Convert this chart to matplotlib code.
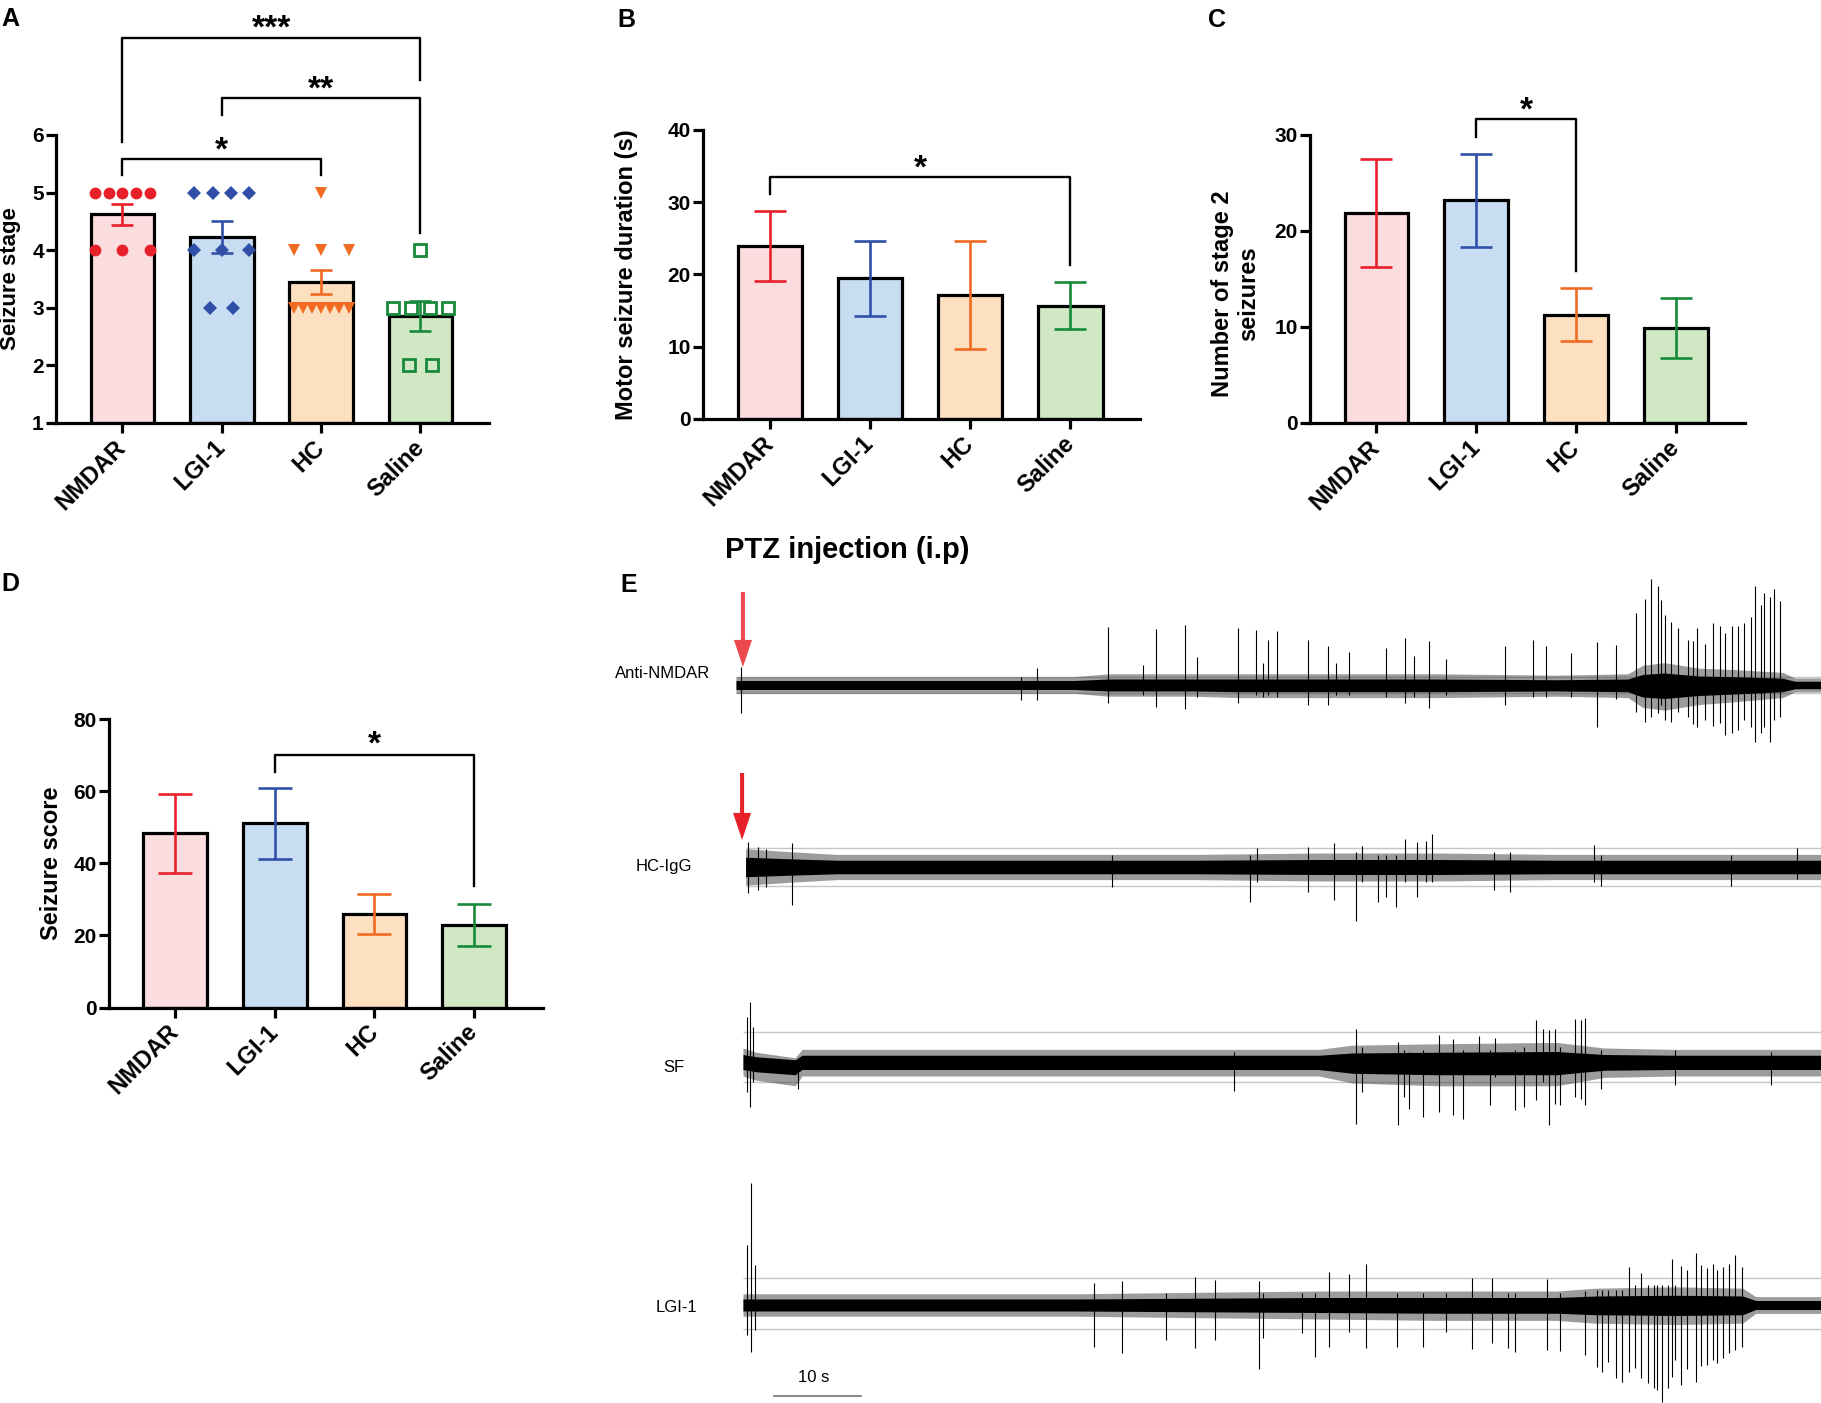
import numpy as np
import matplotlib
matplotlib.use('Agg')
import matplotlib.pyplot as plt

plt.rcParams['font.family'] = ['Liberation Sans', 'DejaVu Sans']

groups = ['NMDAR', 'LGI-1', 'HC', 'Saline']
face_colors = ['#fbdde0', '#c9ddf2', '#fde0c0', '#d0e8c4']
line_colors = ['#e8202a', '#3050a8', '#f26b22', '#18893a']

# A - seizure stage per animal
stage_nmdar = [5, 5, 5, 5, 5, 4, 4, 4]
stage_lgi = [5, 5, 5, 5, 4, 4, 4, 3, 3]
stage_hc = [5, 4, 4, 4, 3, 3, 3, 3, 3, 3, 3]
stage_saline = [4, 3, 3, 3, 3, 2, 2]

# B - motor seizure duration (s), mean and SEM
motor_mean = [23.9, 19.5, 17.2, 15.7]
motor_sem = [4.85, 5.2, 7.5, 3.2]

# C - number of stage 2 seizures
stage2_mean = [21.9, 23.2, 11.3, 9.9]
stage2_sem = [5.6, 4.85, 2.75, 3.15]

# D - seizure score
score_mean = [48.4, 51.1, 26.0, 22.9]
score_sem = [11.0, 9.85, 5.5, 5.95]

# significance brackets: (left group, right group, bar y, left leg end, right leg end, label, label y)
sig_a = [(0, 3, 7.68, 5.88, 6.95, '***', 8.03),
         (1, 3, 6.64, 6.35, 4.30, '**', 6.97),
         (0, 2, 5.58, 5.31, 5.31, '*', 5.91)]
sig_b = [(0, 3, 33.5, 31.1, 21.3, '*', 36.1)]
sig_c = [(1, 2, 31.7, 29.8, 15.8, '*', 33.6)]
sig_d = [(1, 3, 70.2, 65.4, 33.6, '*', 75.8)]

# E - EEG traces (time in s after injection, amplitude in arbitrary units)
eeg_names = ['Anti-NMDAR', 'HC-IgG', 'SF', 'LGI-1']

nmdar_band_t = [0, 11.6, 25.2, 38.9, 42.8, 52.5, 57.7, 67.0, 80.6, 94.3, 102.5, 104.2, 106.7, 110.7, 114.8, 120.3, 121.7, 124.7]
nmdar_band_hi = [6, 6, 6, 6, 8, 8, 8, 8, 8, 7, 8, 14, 16, 12, 11, 9, 5, 5]
nmdar_band_lo = [-6, -6, -6, -6, -8, -8, -9, -9, -9, -8, -9, -16, -18, -14, -12, -9, -5, -5]
nmdar_spike_t = [0.6, 32.8, 34.6, 42.8, 46.8, 48.3, 51.6, 53.0, 57.7, 59.8, 60.6, 61.1, 62.2, 65.7, 68.0,
                 69.0, 70.5, 74.7, 76.9, 77.9, 79.7, 81.6, 88.4, 91.6, 93.1, 96.0, 99.0, 101.1,
                 103.4, 104.5, 105.2, 106.0, 106.3, 106.8, 107.5, 108.3, 109.4, 110.0, 110.5, 111.4,
                 112.3, 113.1, 113.7, 114.5, 115.2, 115.9, 116.6, 117.1, 117.8, 118.2, 118.8, 119.3, 120.0]
nmdar_spike_hi = [18, 8, 17, 58, 20, 56, 60, 28, 57, 55, 22, 45, 54, 45, 39,
                  22, 33, 37, 47, 29, 44, 26, 39, 45, 39, 32, 43, 40,
                  72, 86, 106, 99, 85, 70, 63, 57, 45, 44, 57, 41,
                  62, 59, 52, 59, 59, 62, 68, 99, 80, 92, 88, 96, 84]
nmdar_spike_lo = [-28, -15, -15, -18, -10, -22, -24, -12, -18, -10, -12, -10, -12, -20, -20,
                  -10, -10, -12, -18, -12, -23, -10, -20, -12, -12, -12, -42, -14,
                  -27, -37, -32, -28, -20, -35, -37, -27, -32, -39, -42, -35,
                  -41, -38, -50, -48, -45, -35, -42, -57, -48, -42, -57, -35, -32]
nmdar_ref = [8, -8]

hc_band_t = [1.1, 6.0, 11.6, 25.2, 38.9, 52.5, 67.0, 80.6, 94.3, 108.0, 121.6, 124.7]
hc_band_hi = [13, 11, 9, 9, 9, 9, 10, 10, 9, 9, 9, 9]
hc_band_lo = [-13, -11, -9, -9, -9, -9, -10, -10, -9, -9, -9, -9]
hc_spike_t = [1.4, 2.5, 3.4, 6.4, 43.2, 59.1, 59.9, 65.7, 68.7, 71.2, 72.0, 73.8, 74.7, 75.8,
              76.9, 78.3, 79.3, 80.0, 87.1, 88.9, 98.6, 99.4, 114.4, 121.9]
hc_spike_hi = [25, 20, 18, 24, 12, 12, 19, 20, 24, 15, 21, 12, 12, 12,
               28, 25, 26, 33, 15, 15, 22, 12, 12, 19]
hc_spike_lo = [-26, -23, -20, -38, -20, -35, -15, -25, -33, -54, -15, -35, -30, -40,
               -15, -30, -15, -15, -23, -25, -15, -19, -19, -12]
hc_ref = [19, -19]

sf_band_t = [0.8, 2.3, 6.8, 7.6, 11.6, 25.2, 38.9, 52.5, 67.0, 70.8, 80.6, 94.3, 99.8, 108.0, 121.6, 124.7]
sf_band_hi = [10, 7, 3, 9, 9, 9, 9, 9, 9, 12, 13, 14, 10, 9, 9, 9]
sf_band_lo = [-10, -13, -17, -10, -10, -10, -10, -10, -10, -15, -17, -17, -11, -10, -10, -10]
sf_spike_t = [1.3, 1.6, 1.9, 7.1, 57.2, 71.2, 71.9, 76.1, 76.8, 77.3, 79.0, 80.8, 82.4, 83.5,
              85.4, 86.7, 87.2, 89.5, 90.6, 92.0, 92.7, 93.4, 94.1, 94.7, 96.4,
              97.1, 97.6, 99.4, 107.9, 118.9]
sf_spike_hi = [45, 60, 35, 0, 10, 33, 15, 20, 12, 10, 12, 27, 23, 12,
               26, 12, 24, 12, 15, 42, 33, 32, 33, 15, 43,
               42, 44, 12, 12, 10]
sf_spike_lo = [-30, -45, -20, -27, -29, -62, -30, -63, -35, -47, -55, -50, -53, -57,
               -12, -43, -15, -48, -45, -38, -20, -63, -42, -43, -35,
               -37, -43, -27, -23, -23]
sf_ref = [30, -20]

lgi_band_t = [0.8, 11.6, 25.2, 38.9, 52.5, 67.0, 80.6, 94.3, 98.8, 108.0, 115.7, 117.2, 124.7]
lgi_band_hi = [8, 8, 8, 8, 9, 10, 10, 10, 12, 13, 12, 6, 6]
lgi_band_lo = [-8, -8, -8, -8, -9, -10, -11, -11, -13, -14, -13, -6, -6]
lgi_spike_t = [1.3, 1.7, 2.2, 41.2, 44.4, 49.4, 52.8, 55.0, 60.1, 60.6, 65.0, 66.5, 68.1,
               70.4, 72.4, 76.0, 79.0, 81.6, 84.6, 86.9, 88.7, 89.5, 93.2, 94.7, 97.6,
               98.9, 99.5, 100.2, 101.1, 101.8, 102.6, 103.3, 104.0, 104.8, 105.5, 105.9,
               106.4, 107.1, 107.6, 107.9, 108.6, 109.3, 110.3, 110.9, 111.6, 112.3, 112.7,
               113.4, 114.1, 114.8, 115.6]
lgi_spike_hi = [60, 122, 40, 22, 24, 12, 28, 25, 24, 12, 12, 12, 33,
                31, 41, 12, 12, 12, 27, 27, 12, 12, 26, 12, 14,
                15, 15, 15, 15, 15, 38, 20, 32, 20, 20, 20,
                20, 20, 46, 20, 39, 35, 52, 40, 37, 41, 35,
                38, 41, 50, 38]
lgi_spike_lo = [-30, -47, -25, -42, -48, -35, -43, -35, -64, -33, -28, -52, -42,
                -27, -43, -42, -42, -27, -44, -38, -43, -47, -45, -46, -50,
                -62, -67, -57, -73, -77, -67, -63, -73, -78, -83, -85,
                -97, -83, -72, -55, -80, -64, -77, -61, -60, -55, -58,
                -53, -48, -45, -42]
lgi_ref = [27, -24]

eeg_bands = [(nmdar_band_t, nmdar_band_hi, nmdar_band_lo), (hc_band_t, hc_band_hi, hc_band_lo),
             (sf_band_t, sf_band_hi, sf_band_lo), (lgi_band_t, lgi_band_hi, lgi_band_lo)]
eeg_spikes = [(nmdar_spike_t, nmdar_spike_hi, nmdar_spike_lo), (hc_spike_t, hc_spike_hi, hc_spike_lo),
              (sf_spike_t, sf_spike_hi, sf_spike_lo), (lgi_spike_t, lgi_spike_hi, lgi_spike_lo)]
eeg_refs = [nmdar_ref, hc_ref, sf_ref, lgi_ref]

W, H = 1821, 1403


def rect(left, top, right, bottom):
    # pixel box -> figure fraction
    return [left / W, 1 - bottom / H, (right - left) / W, (bottom - top) / H]


def jitter(values):
    values = np.asarray(values, dtype=float)
    xs = np.zeros(len(values))
    for v in np.unique(values):
        idx = np.where(values == v)[0]
        k = len(idx)
        if k == 1:
            continue
        half = 0.276 if k >= 3 else 0.115
        xs[idx] = np.linspace(-half, half, k)
    return xs


def style_axes(ax, ylim, yticks):
    ax.set_xlim(-0.665, 3.69)
    ax.set_ylim(*ylim)
    ax.set_yticks(yticks)
    ax.set_xticks(range(4))
    ax.set_xticklabels(groups, rotation=45, ha='right', va='center', rotation_mode='anchor',
                       fontsize=17, fontweight='bold')
    for lab in ax.get_yticklabels():
        lab.set_fontsize(15)
        lab.set_fontweight('bold')
    ax.spines['top'].set_visible(False)
    ax.spines['right'].set_visible(False)
    for s in ('left', 'bottom'):
        ax.spines[s].set_linewidth(2.3)
    ax.tick_params(axis='both', width=2.3, length=7, pad=2)
    ax.tick_params(axis='x', pad=8)
    ax.patch.set_alpha(0)


def bars(ax, means, sems, capsize, base=0.0):
    x = np.arange(4)
    heights = np.asarray(means) - base
    ax.bar(x, heights, bottom=base, width=0.64, color=face_colors, edgecolor='black',
           linewidth=2.3, zorder=2)
    for i in x:
        ax.errorbar(i, means[i], yerr=sems[i], color=line_colors[i], capsize=capsize,
                    capthick=1.9, elinewidth=1.9, zorder=3)


def brackets(ax, sigs):
    for a, b, yb, yl, yr, lab, ys in sigs:
        ax.plot([a, a, b, b], [yl, yb, yb, yr], color='black', lw=1.7, clip_on=False, zorder=4)
        ax.annotate(lab, xy=((a + b) / 2, ys), xytext=(0, -8), textcoords='offset points',
                    ha='center', va='center', fontsize=24, fontweight='bold', annotation_clip=False)


fig = plt.figure(figsize=(W / 100, H / 100), dpi=100)

# A
ax_a = fig.add_axes(rect(56.3, 135, 489, 423))
stage_sets = [stage_nmdar, stage_lgi, stage_hc, stage_saline]
a_mean = [np.mean(s) for s in stage_sets]
a_sem = [np.std(s, ddof=1) / np.sqrt(len(s)) for s in stage_sets]
bars(ax_a, a_mean, a_sem, capsize=8, base=1.0)
markers = [('o', 8.5, True), ('D', 7, True), ('v', 9, True), ('s', 8, False)]
for i, pts in enumerate(stage_sets):
    m, ms, filled = markers[i]
    ax_a.plot(i + jitter(pts), pts, linestyle='none', marker=m, markersize=ms,
              color=line_colors[i], markerfacecolor=line_colors[i] if filled else 'none',
              markeredgewidth=2.0 if not filled else 0, zorder=5, clip_on=False)
style_axes(ax_a, (1, 6), range(1, 7))
brackets(ax_a, sig_a)
ax_a.set_ylabel('Seizure stage', fontsize=16, fontweight='bold')
ax_a.yaxis.set_label_coords(-0.0816, 0.5)

# B
ax_b = fig.add_axes(rect(703.3, 130, 1139.6, 419))
bars(ax_b, motor_mean, motor_sem, capsize=11.5)
style_axes(ax_b, (0, 40), range(0, 41, 10))
brackets(ax_b, sig_b)
ax_b.set_ylabel('Motor seizure duration (s)', fontsize=17, fontweight='bold')
ax_b.yaxis.set_label_coords(-0.150, 0.5)

# C
ax_c = fig.add_axes(rect(1310.1, 135, 1744.6, 423))
bars(ax_c, stage2_mean, stage2_sem, capsize=11.5)
style_axes(ax_c, (0, 30), range(0, 31, 10))
brackets(ax_c, sig_c)
ax_c.set_ylabel('Number of stage 2\nseizures', fontsize=17, fontweight='bold')
ax_c.yaxis.set_label_coords(-0.115, 0.448)

# D
ax_d = fig.add_axes(rect(109.1, 719.3, 542.7, 1007.5))
bars(ax_d, score_mean, score_sem, capsize=12)
style_axes(ax_d, (0, 80), range(0, 81, 20))
brackets(ax_d, sig_d)
ax_d.set_ylabel('Seizure score', fontsize=17, fontweight='bold')
ax_d.yaxis.set_label_coords(-0.106, 0.5)

# E
ax_e = fig.add_axes(rect(736, 560, 1821, 1403))
ax_e.set_xlim(0, 124.7)
ax_e.set_ylim(-718, 125)
ax_e.axis('off')
trace_offsets = [0, -182, -377, -620]
label_x = [-8.4, -8.3, -7.2, -6.9]
label_dy = [11, 0, -5, -2]
for k in range(4):
    off = trace_offsets[k]
    bt, bhi, blo = eeg_bands[k]
    bhi = np.array(bhi, dtype=float)
    blo = np.array(blo, dtype=float)
    st, shi, slo = eeg_spikes[k]
    rhi, rlo = eeg_refs[k]
    ax_e.hlines([off + rhi, off + rlo], bt[0], 124.7, color='#c6c6c6', lw=1.0, zorder=1)
    # hairy fringe of the noise, then the dense core
    ax_e.fill_between(bt, off + 1.4 * blo, off + 1.4 * bhi, color='#3a3a3a', alpha=0.5, lw=0, zorder=2)
    ax_e.fill_between(bt, off + 0.75 * blo, off + 0.75 * bhi, color='black', lw=0, zorder=3)
    ax_e.vlines(st, off + np.array(slo), off + np.array(shi), color='black', lw=0.8, zorder=3)
    ax_e.text(label_x[k], off + label_dy[k], eeg_names[k], ha='center', va='center', fontsize=12)

arrow_style = dict(width=2.9, headwidth=13, headlength=19.5, shrink=0, edgecolor='none')
ax_e.annotate('', xy=(0.8, 18), xytext=(0.8, 93),
              arrowprops=dict(facecolor='#ec4950', **arrow_style), zorder=6)
ax_e.annotate('', xy=(0.7, -182 + 27), xytext=(0.7, -182 + 94),
              arrowprops=dict(facecolor='#e8202a', **arrow_style), zorder=6)

ax_e.plot([4.4, 14.4], [-711, -711], color='#808080', lw=1.3, clip_on=False)
ax_e.text(8.9, -693, '10 s', ha='center', va='center', fontsize=12)

fig.text(724.6 / W, 1 - 550 / H, 'PTZ injection (i.p)', ha='left', va='center',
         fontsize=21, fontweight='bold')

for lab, px, py in [('A', 1, 7), ('B', 617, 8), ('C', 1208, 8), ('D', 1, 572), ('E', 620, 573)]:
    fig.text(px / W, 1 - py / H, lab, ha='left', va='top', fontsize=18, fontweight='bold')

fig.savefig('out.png', dpi=100)
